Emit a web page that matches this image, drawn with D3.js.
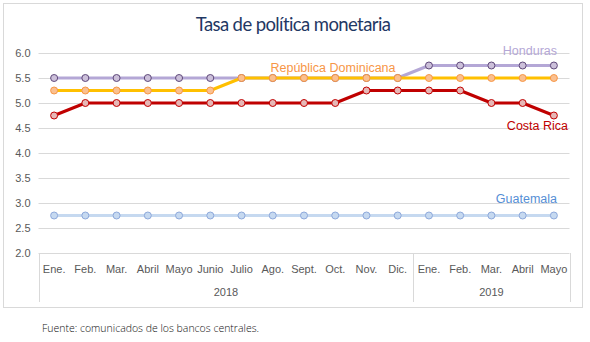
<!DOCTYPE html>
<html><head><meta charset="utf-8">
<script src="https://cdn.jsdelivr.net/npm/d3@7"></script>
<style>body{margin:0;background:#fff;}svg{display:block;}</style>
</head><body>
<svg id="c" width="590" height="342"></svg>
<script>
const months = ["Ene.","Feb.","Mar.","Abril","Mayo","Junio","Julio","Ago.","Sept.","Oct.","Nov.","Dic.","Ene.","Feb.","Mar.","Abril","Mayo"];
const years = [{label:"2018", n:12},{label:"2019", n:5}];
const yTicks = [2.0,2.5,3.0,3.5,4.0,4.5,5.0,5.5,6.0];
const guatemala = [2.75,2.75,2.75,2.75,2.75,2.75,2.75,2.75,2.75,2.75,2.75,2.75,2.75,2.75,2.75,2.75,2.75];
const costaRica = [4.75,5.0,5.0,5.0,5.0,5.0,5.0,5.0,5.0,5.0,5.25,5.25,5.25,5.25,5.0,5.0,4.75];
const honduras = [5.5,5.5,5.5,5.5,5.5,5.5,5.5,5.5,5.5,5.5,5.5,5.5,5.75,5.75,5.75,5.75,5.75];
const repDom = [5.25,5.25,5.25,5.25,5.25,5.25,5.5,5.5,5.5,5.5,5.5,5.5,5.5,5.5,5.5,5.5,5.5];

const series = [
  {name:"Guatemala", values:guatemala, line:"#C6D9F0", fill:"#C6D9F0", stroke:"#8EA9DB", label:"#558ED5", lx:557, ly:203, anchor:"end"},
  {name:"Costa Rica", values:costaRica, line:"#C00000", fill:"#E6B8B7", stroke:"#C00000", label:"#C00000", lx:568, ly:130, anchor:"end"},
  {name:"Honduras", values:honduras, line:"#B4A7D6", fill:"#CCC0DA", stroke:"#5F497A", label:"#B4A7D6", lx:557, ly:55, anchor:"end"},
  {name:"República Dominicana", values:repDom, line:"#FFC000", fill:"#FAC090", stroke:"#F79646", label:"#F79646", lx:333, ly:72, anchor:"middle"}
];

const svg = d3.select("#c");
const L = 38.5, R = 569.5, T = 53, B = 253;
const x = d3.scaleBand().domain(d3.range(months.length)).range([L, R]);
const y = d3.scaleLinear().domain([2,6]).range([B, T]);
const font = "'Liberation Sans', Arial, sans-serif";
const gothic = "'Century Gothic','URW Gothic','Lato','DejaVu Sans',sans-serif";

// outer border
svg.append("rect").attr("x",3.5).attr("y",3.5).attr("width",579).attr("height",304)
  .attr("fill","#fff").attr("stroke","#D9D9D9");

// title
svg.append("text").attr("x",293).attr("y",31).attr("text-anchor","middle")
  .attr("font-family",gothic)
  .attr("font-size",18.5).attr("fill","#1F3864").attr("letter-spacing",-0.6)
  .text("Tasa de política monetaria");

// gridlines
svg.append("g").selectAll("line").data(yTicks.slice(1)).join("line")
  .attr("x1",L).attr("x2",R).attr("y1",d=>Math.round(y(d))+0.5).attr("y2",d=>Math.round(y(d))+0.5)
  .attr("stroke","#D9D9D9").attr("stroke-width",1);

// y axis labels
const ya = svg.append("g").attr("transform",`translate(${L},0)`)
  .call(d3.axisLeft(y).tickValues(yTicks).tickFormat(d3.format(".1f")).tickSize(0).tickPadding(8));
ya.select(".domain").remove();
ya.selectAll("text").attr("font-family",font).attr("font-size",11).attr("fill","#595959");

// x axis
const xa = svg.append("g").attr("transform",`translate(0,${B})`)
  .call(d3.axisBottom(x).tickFormat(i=>months[i]).tickSize(0).tickPadding(12));
xa.select(".domain").attr("stroke","#D9D9D9").attr("d",`M${L},0.5H${R}`);
xa.selectAll("text").attr("font-family",font).attr("font-size",11).attr("fill","#595959");

// year group separators & labels
let start = 0;
const sepXs = [L];
years.forEach(g=>{
  const x0 = x(start), x1 = x(start+g.n-1)+x.bandwidth();
  svg.append("text").attr("x",(x0+x1)/2).attr("y",296).attr("text-anchor","middle")
    .attr("font-family",font).attr("font-size",11).attr("fill","#595959").text(g.label);
  start += g.n;
  sepXs.push(x1);
});
svg.append("g").selectAll("line").data(sepXs).join("line")
  .attr("x1",d=>Math.round(d)+0.5).attr("x2",d=>Math.round(d)+0.5).attr("y1",B).attr("y2",302)
  .attr("stroke","#D9D9D9");

// lines
const cx = i => x(i)+x.bandwidth()/2;
const line = d3.line().x((d,i)=>cx(i)).y(d=>y(d));
series.forEach(s=>{
  const g = svg.append("g");
  g.append("path").attr("d",line(s.values)).attr("fill","none").attr("stroke",s.line)
    .attr("stroke-width",3).attr("stroke-linejoin","round");
  g.selectAll("circle").data(s.values).join("circle")
    .attr("cx",(d,i)=>cx(i)).attr("cy",d=>y(d)).attr("r",3.5)
    .attr("fill",s.fill).attr("stroke",s.stroke).attr("stroke-width",1);
});
series.forEach(s=>{
  svg.append("text").attr("x",s.lx).attr("y",s.ly).attr("text-anchor",s.anchor)
    .attr("font-family",font).attr("font-size",12.5).attr("fill",s.label).text(s.name);
});

// source
svg.append("text").attr("x",42).attr("y",332)
  .attr("font-family","'Open Sans','DejaVu Sans',sans-serif").attr("font-weight",300)
  .attr("font-size",10.5).attr("fill","#111").text("Fuente: comunicados de los bancos centrales.");
</script>
</body></html>
